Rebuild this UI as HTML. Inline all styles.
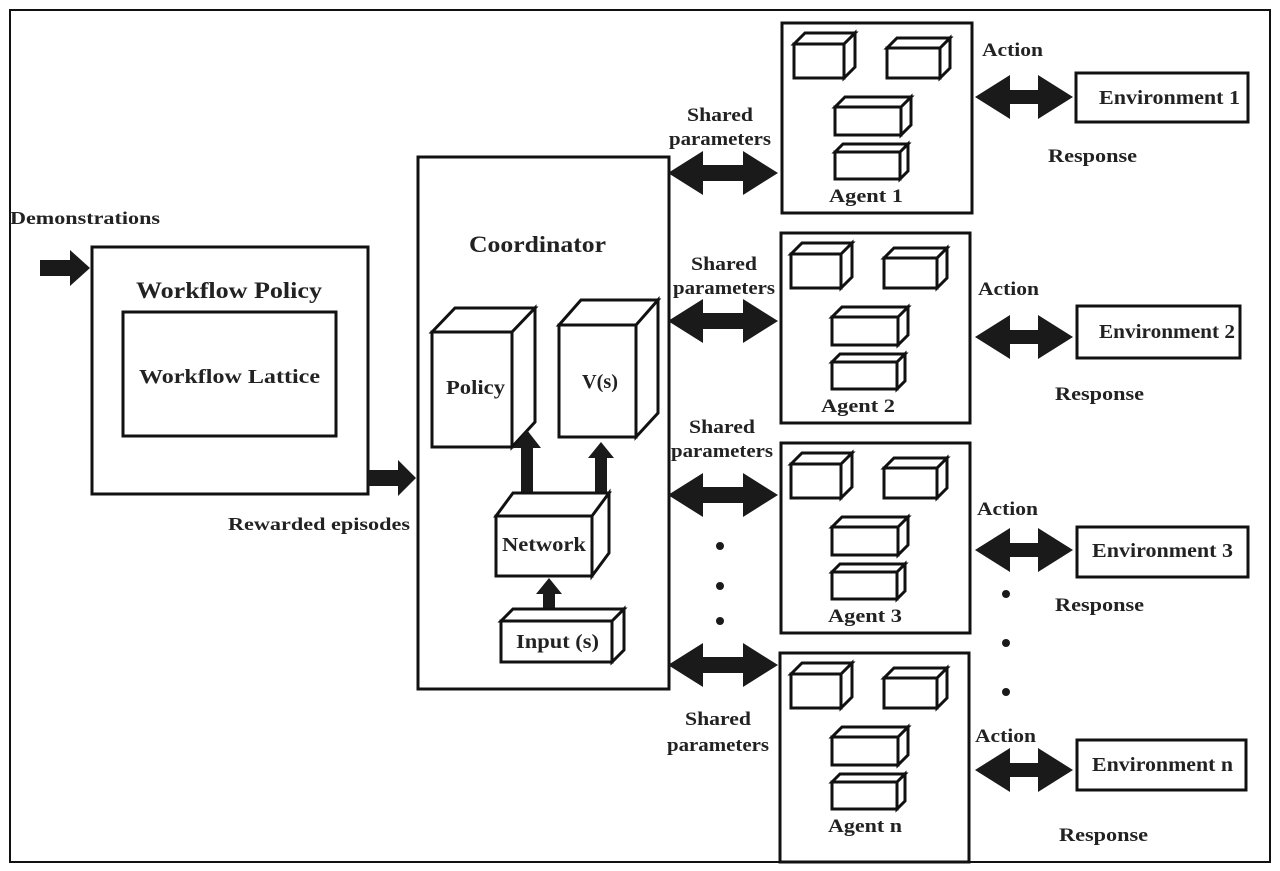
<!DOCTYPE html>
<html><head><style>
html,body{margin:0;padding:0;background:#fff;}
svg{display:block;}
text{font-family:"Liberation Serif",serif;font-weight:bold;fill:#222;}
</style></head><body>
<svg width="1280" height="871" viewBox="0 0 1280 871" xmlns="http://www.w3.org/2000/svg">
<defs>
<g id="agentcubes" fill="#fff" stroke="#111" stroke-width="3" stroke-linejoin="miter">
  <rect x="794" y="44" width="50" height="34"/>
  <path d="M794 44 L805 33 L855 33 L844 44 Z M844 44 L855 33 L855 67 L844 78 Z"/>
  <rect x="887" y="48" width="53" height="30"/>
  <path d="M887 48 L897 38 L950 38 L940 48 Z M940 48 L950 38 L950 68 L940 78 Z"/>
  <rect x="835" y="107" width="66" height="28"/>
  <path d="M835 107 L845 97 L911 97 L901 107 Z M901 107 L911 97 L911 125 L901 135 Z"/>
  <rect x="835" y="152" width="65" height="27"/>
  <path d="M835 152 L843 144 L908 144 L900 152 Z M900 152 L908 144 L908 171 L900 179 Z"/>
</g>
<path id="dbl" d="M0 0 L35 -22 L35 -8 L75 -8 L75 -22 L110 0 L75 22 L75 8 L35 8 L35 22 Z" fill="#1a1a1a"/>
<path id="dbl2" d="M0 0 L35 -22 L35 -7 L63 -7 L63 -22 L98 0 L63 22 L63 7 L35 7 L35 22 Z" fill="#1a1a1a"/>
</defs>

<rect x="10" y="10" width="1260" height="852" fill="none" stroke="#111" stroke-width="2"/>

<text x="10" y="224" font-size="18" textLength="150" lengthAdjust="spacingAndGlyphs">Demonstrations</text>
<path d="M40 260 L70 260 L70 250 L90 268 L70 286 L70 276 L40 276 Z" fill="#1a1a1a"/>
<rect x="92" y="247" width="276" height="247" fill="none" stroke="#111" stroke-width="3"/>
<text x="136" y="298" font-size="23" textLength="186" lengthAdjust="spacingAndGlyphs">Workflow Policy</text>
<rect x="123" y="312" width="213" height="124" fill="none" stroke="#111" stroke-width="3"/>
<text x="139" y="383" font-size="20" textLength="181" lengthAdjust="spacingAndGlyphs">Workflow Lattice</text>
<path d="M368 470 L398 470 L398 460 L416 478 L398 496 L398 486 L368 486 Z" fill="#1a1a1a"/>
<text x="228" y="530" font-size="18" textLength="182" lengthAdjust="spacingAndGlyphs">Rewarded episodes</text>

<rect x="418" y="157" width="251" height="532" fill="none" stroke="#111" stroke-width="3"/>
<text x="469" y="252" font-size="23" textLength="137" lengthAdjust="spacingAndGlyphs">Coordinator</text>
<g fill="#fff" stroke="#111" stroke-width="3">
  <rect x="432" y="332" width="80" height="115"/>
  <path d="M432 332 L455 308 L535 308 L512 332 Z M512 332 L535 308 L535 422 L512 447 Z"/>
  <rect x="559" y="325" width="77" height="112"/>
  <path d="M559 325 L581 300 L658 300 L636 325 Z M636 325 L658 300 L658 413 L636 437 Z"/>
</g>
<text x="446" y="394" font-size="20" textLength="59" lengthAdjust="spacingAndGlyphs">Policy</text>
<text x="582" y="388" font-size="20" textLength="36" lengthAdjust="spacingAndGlyphs">V(s)</text>
<path d="M521 492 L521 448 L513 448 L527 430 L541 448 L533 448 L533 492 Z" fill="#1a1a1a"/>
<path d="M595 492 L595 458 L588 458 L601 442 L614 458 L607 458 L607 492 Z" fill="#1a1a1a"/>
<g fill="#fff" stroke="#111" stroke-width="3">
  <rect x="496" y="516" width="96" height="60"/>
  <path d="M496 516 L513 493 L609 493 L592 516 Z M592 516 L609 493 L609 553 L592 576 Z"/>
</g>
<text x="502" y="551" font-size="20" textLength="84" lengthAdjust="spacingAndGlyphs">Network</text>
<path d="M543 608 L543 594 L536 594 L549 578 L562 594 L555 594 L555 608 Z" fill="#1a1a1a"/>
<g fill="#fff" stroke="#111" stroke-width="3">
  <rect x="501" y="621" width="111" height="41"/>
  <path d="M501 621 L513 609 L624 609 L612 621 Z M612 621 L624 609 L624 650 L612 662 Z"/>
</g>
<text x="516" y="648" font-size="20" textLength="83" lengthAdjust="spacingAndGlyphs">Input (s)</text>

<use href="#dbl" x="668" y="173"/>
<use href="#dbl" x="668" y="321"/>
<use href="#dbl" x="668" y="495"/>
<use href="#dbl" x="668" y="665"/>
<g font-size="19">
<text x="687" y="121" textLength="66" lengthAdjust="spacingAndGlyphs">Shared</text>
<text x="669" y="145" textLength="102" lengthAdjust="spacingAndGlyphs">parameters</text>
<text x="691" y="270" textLength="66" lengthAdjust="spacingAndGlyphs">Shared</text>
<text x="673" y="294" textLength="102" lengthAdjust="spacingAndGlyphs">parameters</text>
<text x="689" y="433" textLength="66" lengthAdjust="spacingAndGlyphs">Shared</text>
<text x="671" y="457" textLength="102" lengthAdjust="spacingAndGlyphs">parameters</text>
<text x="685" y="725" textLength="66" lengthAdjust="spacingAndGlyphs">Shared</text>
<text x="667" y="751" textLength="102" lengthAdjust="spacingAndGlyphs">parameters</text>
</g>
<g fill="#1a1a1a">
<circle cx="720" cy="546" r="4"/><circle cx="720" cy="586" r="4"/><circle cx="720" cy="621" r="4"/>
<circle cx="1006" cy="594" r="4"/><circle cx="1006" cy="643" r="4"/><circle cx="1006" cy="692" r="4"/>
</g>

<rect x="782" y="23" width="190" height="190" fill="none" stroke="#111" stroke-width="3"/>
<use href="#agentcubes"/>
<text x="829" y="202" font-size="19" textLength="74" lengthAdjust="spacingAndGlyphs">Agent 1</text>

<rect x="781" y="233" width="189" height="190" fill="none" stroke="#111" stroke-width="3"/>
<use href="#agentcubes" x="-3" y="210"/>
<text x="821" y="412" font-size="19" textLength="74" lengthAdjust="spacingAndGlyphs">Agent 2</text>

<rect x="781" y="443" width="189" height="190" fill="none" stroke="#111" stroke-width="3"/>
<use href="#agentcubes" x="-3" y="420"/>
<text x="828" y="622" font-size="19" textLength="74" lengthAdjust="spacingAndGlyphs">Agent 3</text>

<rect x="780" y="653" width="189" height="209" fill="none" stroke="#111" stroke-width="3"/>
<use href="#agentcubes" x="-3" y="630"/>
<text x="828" y="832" font-size="19" textLength="74" lengthAdjust="spacingAndGlyphs">Agent n</text>

<use href="#dbl2" x="975" y="97"/>
<use href="#dbl2" x="975" y="337"/>
<use href="#dbl2" x="975" y="550"/>
<use href="#dbl2" x="975" y="770"/>
<g font-size="19">
<text x="982" y="56" textLength="61" lengthAdjust="spacingAndGlyphs">Action</text>
<text x="978" y="295" textLength="61" lengthAdjust="spacingAndGlyphs">Action</text>
<text x="977" y="515" textLength="61" lengthAdjust="spacingAndGlyphs">Action</text>
<text x="975" y="742" textLength="61" lengthAdjust="spacingAndGlyphs">Action</text>
<text x="1048" y="162" textLength="89" lengthAdjust="spacingAndGlyphs">Response</text>
<text x="1055" y="400" textLength="89" lengthAdjust="spacingAndGlyphs">Response</text>
<text x="1055" y="611" textLength="89" lengthAdjust="spacingAndGlyphs">Response</text>
<text x="1059" y="841" textLength="89" lengthAdjust="spacingAndGlyphs">Response</text>
</g>

<g fill="#fff" stroke="#111" stroke-width="3">
<rect x="1076" y="73" width="172" height="49"/>
<rect x="1077" y="306" width="163" height="52"/>
<rect x="1077" y="527" width="171" height="50"/>
<rect x="1077" y="740" width="169" height="50"/>
</g>
<g font-size="20">
<text x="1099" y="104" textLength="141" lengthAdjust="spacingAndGlyphs">Environment 1</text>
<text x="1099" y="338" textLength="136" lengthAdjust="spacingAndGlyphs">Environment 2</text>
<text x="1092" y="557" textLength="141" lengthAdjust="spacingAndGlyphs">Environment 3</text>
<text x="1092" y="771" textLength="141" lengthAdjust="spacingAndGlyphs">Environment n</text>
</g>
</svg>
</body></html>
